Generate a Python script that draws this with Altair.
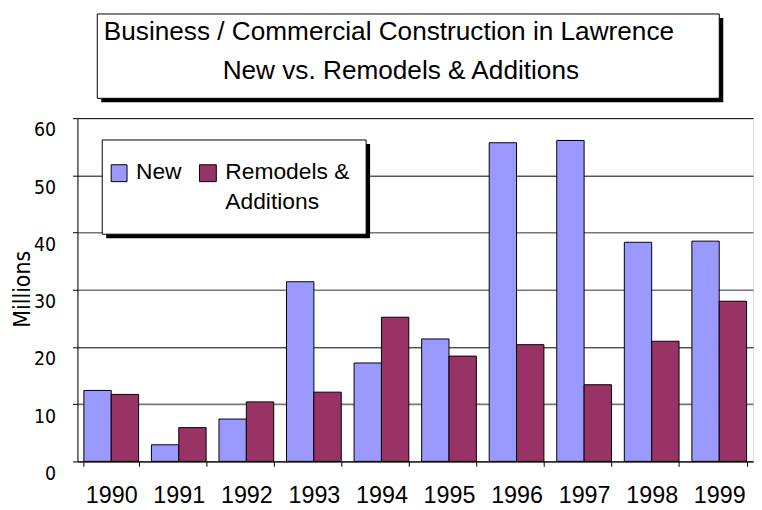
import altair as alt
import pandas as pd

years = ["1990", "1991", "1992", "1993", "1994", "1995", "1996", "1997", "1998", "1999"]
new_vals = [12.4, 2.9, 7.4, 31.4, 17.2, 21.4, 55.7, 56.1, 38.3, 38.5]
remodel_vals = [11.7, 5.9, 10.4, 12.1, 25.2, 18.4, 20.4, 13.4, 21.0, 28.0]
series_names = ["New", "Remodels & Additions"]
series_colors = ["#9999FF", "#993366"]
title_lines = ["Business / Commercial Construction in Lawrence", "New vs. Remodels & Additions"]
y_ticks = [0, 10, 20, 30, 40, 50, 60]
y_title = "Millions"

rows = []
for i, yr in enumerate(years):
    rows.append({"year": yr, "series": series_names[0], "value": new_vals[i]})
    rows.append({"year": yr, "series": series_names[1], "value": remodel_vals[i]})
df = pd.DataFrame(rows)

one = pd.DataFrame({"k": [0]})
W, H = 681, 346

dark_grid = "datum.value == 20 || datum.value == 50 || datum.value == 60"

bars = alt.Chart(df).mark_bar(stroke="black", strokeWidth=1).encode(
    x=alt.X("year:N", sort=years,
            scale=alt.Scale(paddingInner=0.19, paddingOuter=0.095),
            axis=alt.Axis(title=None, labelAngle=0, labelFont="Liberation Sans",
                          labelFontSize=23.5, labelColor="black", tickBand="extent",
                          tickSize=5, tickColor="black", domainColor="black",
                          labelPadding=17, grid=False)),
    xOffset=alt.XOffset("series:N", sort=series_names),
    y=alt.Y("value:Q", scale=alt.Scale(domain=[0, 60], nice=False),
            axis=alt.Axis(values=y_ticks, title=y_title, labelFont="DejaVu Sans Condensed",
                          labelFontSize=19.5, labelColor="black", labelPadding=17,
                          labelOffset=12, tickSize=5, tickColor="black",
                          domainColor="black",
                          gridColor=alt.condition(dark_grid, alt.value("black"), alt.value("#777777")),
                          gridWidth=alt.condition(dark_grid, alt.value(1), alt.value(1.6)),
                          titleFont="DejaVu Sans Condensed", titleFontSize=23,
                          titleFontWeight="normal", titleColor="black",
                          titleX=-55, titleY=172, titleAlign="center",
                          titleBaseline="middle", titleAngle=270)),
    color=alt.Color("series:N", scale=alt.Scale(domain=series_names, range=series_colors),
                    legend=None),
)

def box(x1, x2, y1, y2, fill, stroke=None):
    kw = {"fill": fill}
    if stroke:
        kw["stroke"] = stroke
        kw["strokeWidth"] = 1
    return alt.Chart(one).mark_rect(**kw).encode(
        x=alt.value(x1), x2=alt.value(x2), y=alt.value(y1), y2=alt.value(y2))

def label(txt, x, y, font, size, align="left"):
    return alt.Chart(one).mark_text(font=font, fontSize=size, align=align,
                                    baseline="alphabetic", color="black",
                                    lineBreak="\n", lineHeight=31).encode(
        x=alt.value(x), y=alt.value(y), text=alt.value(txt))

title_shadow = box(24, 651, -101, -16, "black")
title_box = box(20, 647, -105, -20, "white", "black")
t1 = label(title_lines[0], 314, -78.5, "Liberation Sans", 26.4, "center")
t2 = label(title_lines[1], 326, -39, "Liberation Sans", 26.4, "center")

leg_shadow = box(29, 295, 26, 121, "black")
leg_box = box(25, 291, 22, 117, "white", "black")
sw1 = box(34, 50, 47, 64, series_colors[0], "black")
sw2 = box(123, 140, 47, 64, series_colors[1], "black")
l1 = label(series_names[0], 59, 61, "Liberation Sans", 23)
l2 = label(series_names[1].replace(" Additions", "\nAdditions"), 149, 61, "Liberation Sans", 23)

chart = alt.layer(
    title_shadow, title_box, t1, t2, bars, leg_shadow, leg_box, sw1, sw2, l1, l2
).properties(
    width=W, height=H,
    autosize=alt.AutoSizeParams(type="none"),
    padding={"left": 70, "top": 109, "right": 1, "bottom": 50},
).configure_view(stroke="black", strokeWidth=1).configure(background="white")

chart.save("out.html", embed_options={"renderer": "svg", "actions": False})
